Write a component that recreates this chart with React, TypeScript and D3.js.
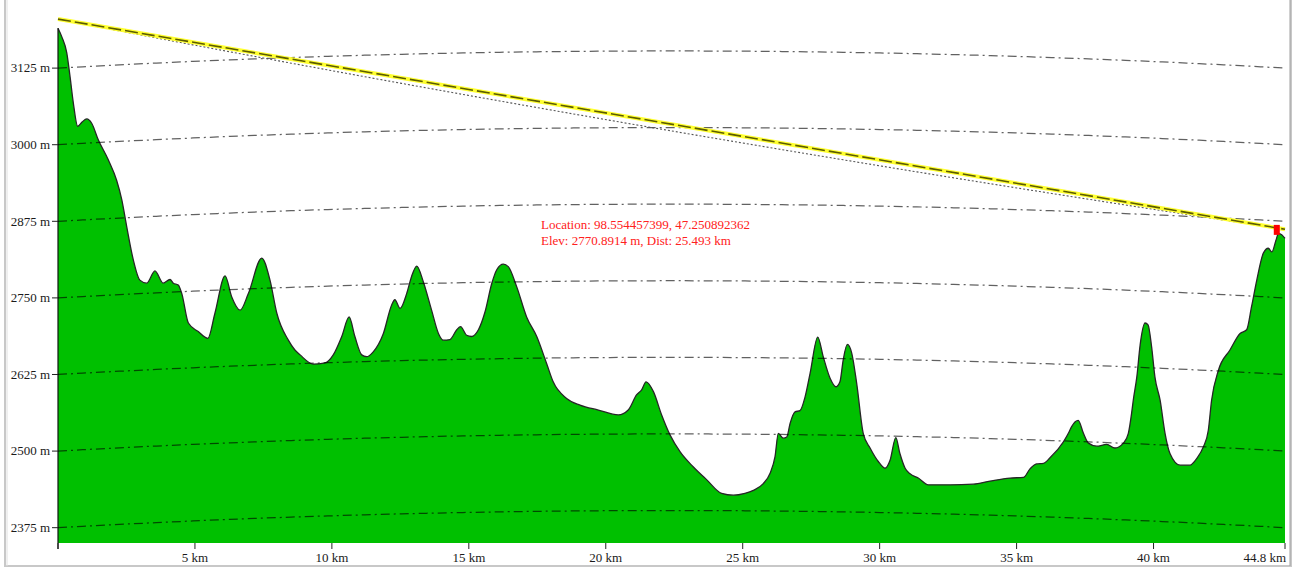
import React from "react";
import * as d3 from "d3";

// ---- data ----
const distKm = [
  0, 0.14, 0.32, 0.44, 0.56, 0.72, 0.88, 1.05, 1.23, 1.47, 1.84, 2.14, 2.33, 2.51, 2.75, 2.99,
  3.24, 3.54, 3.84, 4.09, 4.21, 4.39, 4.52, 4.76, 5.12, 5.47, 5.73, 6.1, 6.34, 6.65, 6.95, 7.44,
  7.74, 7.99, 8.41, 8.65, 8.84, 9.32, 9.75, 10.05, 10.36, 10.63, 10.84, 11.09, 11.27, 11.51, 11.88,
  12.18, 12.3, 12.49, 12.73, 12.91, 13.1, 13.34, 13.64, 13.89, 14.07, 14.31, 14.56, 14.7, 14.92,
  15.1, 15.35, 15.59, 15.84, 16.02, 16.26, 16.44, 16.75, 17.11, 17.48, 17.84, 18.08, 18.57, 19.06,
  19.73, 20.46, 20.82, 21.13, 21.31, 21.47, 21.74, 22.04, 22.35, 22.71, 23.2, 23.69, 24.23, 24.66,
  25.08, 25.39, 25.75, 26.0, 26.18, 26.3, 26.48, 26.61, 26.73, 26.91, 27.09, 27.28, 27.46, 27.74,
  27.94, 28.19, 28.41, 28.55, 28.67, 28.82, 28.98, 29.16, 29.4, 29.65, 29.95, 30.2, 30.38, 30.59,
  30.74, 30.93, 31.11, 31.41, 31.78, 32.57, 33.42, 34.03, 34.76, 35.25, 35.49, 35.73, 35.98, 36.22,
  36.71, 36.89, 37.01, 37.25, 37.44, 37.62, 37.93, 38.29, 38.59, 38.9, 39.08, 39.2, 39.26, 39.39,
  39.51, 39.69, 39.8, 39.93, 40.05, 40.24, 40.42, 40.6, 40.97, 41.33, 41.58, 41.82, 42.0, 42.12,
  42.37, 42.79, 43.16, 43.4, 43.58, 43.77, 44.01, 44.19, 44.32, 44.47, 44.56, 44.68, 44.8,
];
const elevM = [
  3190, 3176, 3150, 3111, 3068, 3030, 3037, 3042, 3035, 3008, 2975, 2942, 2910, 2866, 2812, 2779,
  2774, 2794, 2774, 2780, 2774, 2771, 2757, 2709, 2695, 2684, 2725, 2786, 2752, 2730, 2757, 2815,
  2779, 2725, 2681, 2665, 2657, 2642, 2644, 2657, 2687, 2719, 2687, 2657, 2654, 2662, 2692,
  2738, 2747, 2733, 2757, 2785, 2802, 2776, 2730, 2692, 2681, 2682, 2698, 2703, 2689,
  2687, 2698, 2727, 2774, 2796, 2805, 2801, 2768, 2719, 2687, 2643, 2613, 2586, 2575,
  2567, 2559, 2567, 2592, 2600, 2613, 2597, 2559, 2526, 2499, 2474, 2453, 2431, 2428,
  2431, 2436, 2447, 2464, 2491, 2529, 2521, 2523, 2545, 2564, 2566, 2589, 2627, 2686,
  2654, 2619, 2605, 2613, 2649, 2674, 2660, 2611, 2529, 2505, 2483, 2472, 2485, 2522,
  2496, 2472, 2463, 2456, 2445, 2445, 2446, 2451, 2456, 2457, 2471, 2479, 2480, 2489,
  2515, 2529, 2540, 2550, 2529, 2513, 2508, 2511, 2505, 2513, 2529, 2562, 2583, 2621,
  2673, 2709, 2706, 2670, 2621, 2583, 2529, 2496, 2477, 2477, 2488, 2507, 2534, 2583,
  2632, 2665, 2692, 2698, 2736, 2779, 2823, 2831, 2825, 2844, 2855, 2853, 2847,
];

const gridLevels = [2375, 2500, 2625, 2750, 2875, 3000, 3125];
const gridLabels = ["2375 m", "2500 m", "2625 m", "2750 m", "2875 m", "3000 m", "3125 m"];
const xTicks = [0, 5, 10, 15, 20, 25, 30, 35, 40, 44.8];
const xTickLabels = ["", "5 km", "10 km", "15 km", "20 km", "25 km", "30 km", "35 km", "40 km", "44.8 km"];

const losDist = [0, 44.8];
const losElev = [3205, 2862];
const gridBulgeM = 28; // earth-curvature bulge at mid-profile
const losSagM = 11; // sag of curved line of sight at mid-profile
const markerKm = 44.5;
const markerElev = 2861;
const infoLines = [
  "Location: 98.554457399, 47.250892362",
  "Elev: 2770.8914 m, Dist: 25.493 km",
];

// ---- layout ----
const W = 1302;
const H = 569;
const plotLeft = 58;
const plotRight = 1285;
const plotTop = 5;
const plotBottom = 543;

export default function App() {
  const x = d3.scaleLinear().domain([0, 44.8]).range([plotLeft, plotRight]);
  const y = d3.scaleLinear().domain([2350, 3228]).range([plotBottom, plotTop]);
  const maxKm = 44.8;

  const pts: [number, number][] = distKm.map((d, i) => [d, elevM[i]]);
  const area = d3
    .area<[number, number]>()
    .x((d) => x(d[0]))
    .y0(plotBottom)
    .y1((d) => y(d[1]))
    .curve(d3.curveMonotoneX);
  const line = d3
    .line<[number, number]>()
    .x((d) => x(d[0]))
    .y((d) => y(d[1]))
    .curve(d3.curveMonotoneX);

  const samples = d3.range(0, 101).map((i) => (i / 100) * maxKm);
  const curveLine = d3
    .line<[number, number]>()
    .x((d) => x(d[0]))
    .y((d) => y(d[1]));

  const gridPath = (lvl: number) =>
    curveLine(
      samples.map((k) => {
        const t = k / maxKm;
        return [k, lvl + 4 * gridBulgeM * t * (1 - t)] as [number, number];
      })
    ) as string;

  const losInterp = d3.scaleLinear().domain(losDist).range(losElev);
  const sagPath = curveLine(
    samples.map((k) => {
      const t = k / maxKm;
      return [k, losInterp(k) - 4 * losSagM * t * (1 - t)] as [number, number];
    })
  ) as string;
  const losPath = curveLine(losDist.map((d, i) => [d, losElev[i]] as [number, number])) as string;

  const font = "'Liberation Serif', 'Times New Roman', serif";

  return (
    <svg
      width={W}
      height={H}
      style={{ position: "absolute", left: 0, top: 0, display: "block", background: "#fff" }}
    >
      {/* frame */}
      <rect x={5} y={-2} width={1286} height={568} fill="#fff" stroke="#c8c8c8" strokeWidth={2} />
      <line x1={1290} x2={1290} y1={0} y2={566} stroke="#a0a0a0" strokeWidth={1} />
      <line x1={7} x2={7} y1={0} y2={566} stroke="#e0e0e0" strokeWidth={1} />

      {/* terrain */}
      <path d={area(pts) as string} fill="#00c000" stroke="none" />
      <path d={line(pts) as string} fill="none" stroke="#262626" strokeWidth={1.3} />
      <line
        x1={x(0)}
        x2={x(0)}
        y1={y(elevM[0])}
        y2={plotBottom + 6}
        stroke="#111"
        strokeWidth={1.2}
      />

      {/* curved grid lines */}
      {gridLevels.map((lvl) => (
        <path
          key={lvl}
          d={gridPath(lvl)}
          fill="none"
          stroke="#000"
          strokeOpacity={0.62}
          strokeWidth={1.25}
          strokeDasharray="9,4,2,4"
        />
      ))}

      {/* y ticks + labels */}
      {gridLevels.map((lvl, i) => (
        <g key={"yt" + lvl}>
          <line x1={52} x2={58} y1={y(lvl)} y2={y(lvl)} stroke="#222" strokeWidth={1} />
          <text
            x={50}
            y={y(lvl)}
            dy="0.33em"
            textAnchor="end"
            fontFamily={font}
            fontSize={13}
            fill="#1a1a1a"
          >
            {gridLabels[i]}
          </text>
        </g>
      ))}

      {/* x ticks + labels */}
      {xTicks.map((t, i) => (
        <g key={"xt" + t}>
          <line x1={x(t)} x2={x(t)} y1={plotBottom} y2={plotBottom + 6} stroke="#222" strokeWidth={1} />
          <text
            x={i === xTicks.length - 1 ? x(t) + 1 : x(t)}
            y={562}
            textAnchor={i === xTicks.length - 1 ? "end" : "middle"}
            fontFamily={font}
            fontSize={13}
            fill="#1a1a1a"
          >
            {xTickLabels[i]}
          </text>
        </g>
      ))}

      {/* curved line of sight (dotted) */}
      <path d={sagPath} fill="none" stroke="#555" strokeWidth={1.1} strokeDasharray="2,2" />

      {/* straight line of sight */}
      <path d={losPath} fill="none" stroke="#ffff30" strokeWidth={4} />
      <path d={losPath} fill="none" stroke="#5c5c00" strokeWidth={1.6} strokeDasharray="13,4" />

      {/* marker */}
      <rect
        x={x(markerKm) - 3}
        y={y(markerElev) - 5}
        width={6}
        height={10}
        fill="#ff0000"
      />

      {/* info text */}
      {infoLines.map((s, i) => (
        <text key={i} x={541} y={229 + i * 16} fontFamily={font} fontSize={13} fill="#ff2020">
          {s}
        </text>
      ))}
    </svg>
  );
}
